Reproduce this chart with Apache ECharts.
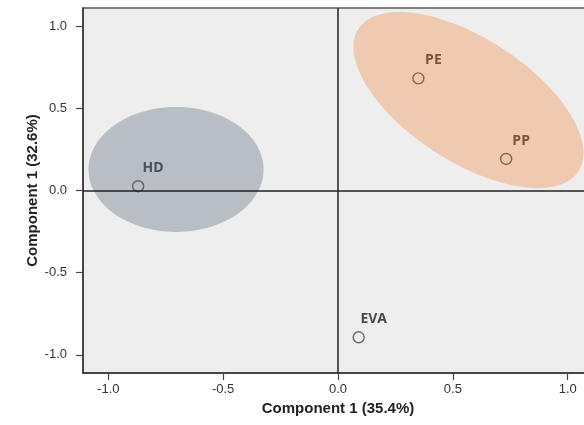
<!DOCTYPE html>
<html>
<head>
<meta charset="utf-8">
<script src="https://cdn.jsdelivr.net/npm/echarts@6/dist/echarts.min.js"></script>
<style>
html,body{margin:0;padding:0;background:#fff;}
#c{width:584px;height:425px;}
</style>
</head>
<body>
<div id="c"></div>
<script>
// ---- data ----
var pointNames = ['HD', 'PE', 'PP', 'EVA'];
var comp1Values = [-0.870, 0.350, 0.732, 0.090];
var comp2Values = [0.026, 0.682, 0.192, -0.893];
var tickValues = [-1.0, -0.5, 0.0, 0.5, 1.0];
// group ellipses in data units: [centerX, centerY, semiAxisA, semiAxisB, angleDeg]
var ellipseCenterX = [-0.705, 0.568];
var ellipseCenterY = [0.128, 0.550];
var ellipseSemiA = [0.381, 0.657];
var ellipseSemiB = [0.380, 0.326];
var ellipseAngle = [0, -48.2];

// ---- styles ----
var ellipseColors = ['#b9bdc4', '#f0cab0'];
var pointBorder = {HD: '#4a4d55', PE: '#6e4a2e', PP: '#6e4a2e', EVA: '#4a4a4a'};
var labelColor = {HD: '#30343c', PE: '#5a3518', PP: '#5a3518', EVA: '#1e1e1e'};

var ellipseData = ellipseCenterX.map(function (cx, i) {
  return [cx, ellipseCenterY[i], ellipseSemiA[i], ellipseSemiB[i], ellipseAngle[i]];
});
var pointData = pointNames.map(function (n, i) {
  return {
    name: n,
    value: [comp1Values[i], comp2Values[i]],
    itemStyle: {color: 'rgba(0,0,0,0)', borderColor: pointBorder[n], borderWidth: 1.4},
    label: {color: labelColor[n]}
  };
});

var chart = echarts.init(document.getElementById('c'), null, {renderer: 'canvas'});
var axisLabelStyle = {fontFamily: 'Liberation Sans', fontSize: 13, color: '#333'};
chart.setOption({
  animation: false,
  backgroundColor: '#ffffff',
  grid: {
    left: 83, top: 8, width: 510, height: 365,
    outerBoundsMode: 'none', containLabel: false,
    show: true, backgroundColor: '#eeeeee', borderColor: '#5a5a5a', borderWidth: 1.5
  },
  xAxis: {
    type: 'value', min: -1.11, max: 1.11,
    name: 'Component 1 (35.4%)', nameLocation: 'middle', nameGap: 28, nameMoveOverlap: false,
    nameTextStyle: {fontFamily: 'Liberation Sans', fontWeight: 'bold', fontSize: 15, color: '#222'},
    axisLine: {show: true, onZero: false, lineStyle: {color: '#333', width: 1.5}},
    axisTick: {show: true, length: 7, customValues: tickValues, lineStyle: {color: '#444', width: 1.2}},
    axisLabel: Object.assign({margin: 10, customValues: tickValues,
      formatter: function (v) { return v.toFixed(1); }}, axisLabelStyle),
    splitLine: {show: false}
  },
  yAxis: {
    type: 'value', min: -1.11, max: 1.11,
    name: 'Component 1 (32.6%)', nameLocation: 'middle', nameGap: 43, nameMoveOverlap: false,
    nameTextStyle: {fontFamily: 'Liberation Sans', fontWeight: 'bold', fontSize: 15, color: '#222'},
    axisLine: {show: true, onZero: false, lineStyle: {color: '#333', width: 1.5}},
    axisTick: {show: true, length: 7, customValues: tickValues, lineStyle: {color: '#444', width: 1.2}},
    axisLabel: Object.assign({margin: 16, customValues: tickValues,
      formatter: function (v) { return v.toFixed(1); }}, axisLabelStyle),
    splitLine: {show: false}
  },
  series: [
    {
      type: 'custom', z: 1, silent: true, clip: true,
      data: ellipseData,
      renderItem: function (params, api) {
        var cx = api.value(0), cy = api.value(1), a = api.value(2), b = api.value(3);
        var phi = api.value(4) * Math.PI / 180;
        var pts = [];
        for (var k = 0; k < 120; k++) {
          var t = k / 120 * Math.PI * 2;
          var dx = a * Math.cos(t) * Math.cos(phi) - b * Math.sin(t) * Math.sin(phi);
          var dy = a * Math.cos(t) * Math.sin(phi) + b * Math.sin(t) * Math.cos(phi);
          pts.push(api.coord([cx + dx, cy + dy]));
        }
        return {type: 'polygon', shape: {points: pts},
          style: {fill: ellipseColors[params.dataIndex], stroke: null}};
      }
    },
    {
      type: 'scatter', z: 2, data: [], silent: true,
      markLine: {
        silent: true, symbol: 'none', animation: false,
        label: {show: false},
        lineStyle: {color: '#222', width: 1.5, type: 'solid'},
        emphasis: {disabled: true},
        data: [{xAxis: 0}, {yAxis: 0}]
      }
    },
    {
      type: 'scatter', z: 3, symbol: 'circle', symbolSize: 11,
      data: pointData,
      label: {
        show: true, position: 'top', distance: 5, offset: [15, 0],
        formatter: '{b}', fontFamily: 'Open Sans', fontWeight: 'bold', fontSize: 14
      }
    }
  ]
});
</script>
</body>
</html>
